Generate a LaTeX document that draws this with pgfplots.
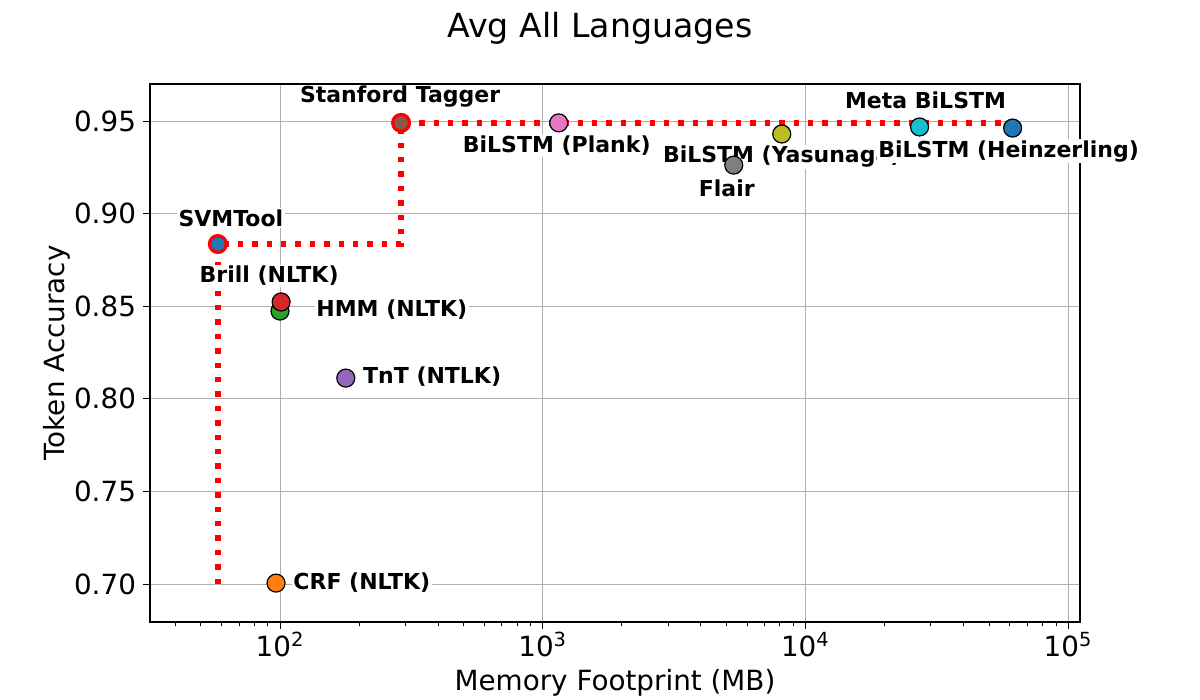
\documentclass[border=0pt]{standalone}
\usepackage{pgfplots}
\pgfplotsset{compat=1.18}
\usepackage{fontspec}
\setmainfont{DejaVu Sans}
\definecolor{tblue}{HTML}{1F77B4}
\definecolor{torange}{HTML}{FF7F0E}
\definecolor{tgreen}{HTML}{2CA02C}
\definecolor{tred}{HTML}{D62728}
\definecolor{tpurple}{HTML}{9467BD}
\definecolor{tbrown}{HTML}{8C564B}
\definecolor{tpink}{HTML}{E377C2}
\definecolor{tgray}{HTML}{7F7F7F}
\definecolor{tolive}{HTML}{BCBD22}
\definecolor{tcyan}{HTML}{17BECF}
\definecolor{gridgray}{HTML}{B0B0B0}
\newcommand\ticklabelfont{\fontsize{13.9}{16}\selectfont}
\newcommand\labfont{\fontsize{11}{13}\selectfont\bfseries}
% point: x, y, fill, edge colour, edge width, mark size
\newcommand\pnt[6]{\addplot[only marks, mark=*, mark size=#6, mark options={fill=#3, draw=#4, line width=#5}] coordinates {(#1,#2)};}
% label: x, y, text, anchor, xshift, yshift
\newcommand\lab[6]{\addplot[only marks, mark=*, mark size=0pt, mark options={draw=none, fill=none},
  nodes near coords={#3},
  every node near coord/.append style={anchor=#4, xshift=#5, yshift=#6, fill=white, text=black, inner sep=0.8pt, font=\labfont}]
  coordinates {(#1,#2)};}
\begin{document}
\begin{tikzpicture}
\useasboundingbox (-75pt,-39pt) rectangle (525pt,311pt);
\begin{axis}[
  at={(0,0)}, anchor=south west,
  scale only axis, width=465pt, height=269pt,
  xmode=log, xmin=32, xmax=111000,
  ymin=0.6795, ymax=0.970,
  xtick={100,1000,10000,100000},
  xticklabels={10\textsuperscript{2},10\textsuperscript{3},10\textsuperscript{4},10\textsuperscript{5}},
  minor xtick={40,50,60,70,80,90,200,300,400,500,600,700,800,900,2000,3000,4000,5000,6000,7000,8000,9000,20000,30000,40000,50000,60000,70000,80000,90000},
  ytick={0.70,0.75,0.80,0.85,0.90,0.95},
  yticklabel style={/pgf/number format/.cd, fixed, fixed zerofill, precision=2},
  xticklabel style={yshift=2pt},
  /pgf/number format/assume math mode=true,
  tick label style={font=\ticklabelfont, text=black},
  tick align=outside, tick pos=left,
  major tick length=3.5pt, minor tick length=2.2pt,
  every tick/.style={black, line width=0.5pt},
  grid=major,
  major grid style={gridgray, line width=0.5pt},
  axis line style={black, line width=0.6pt},
  clip=false,
]
% Pareto frontier
\addplot[red, line width=2.7pt, dash pattern=on 2.7pt off 4.5pt, line cap=butt] coordinates {
  (58,0.700) (58,0.8836) (289,0.8836) (289,0.949) (61500,0.949)
};
% labels
\lab{58}{0.8836}{SVMTool}{center}{6.5pt}{13pt}
\lab{101}{0.8523}{Brill (NLTK)}{center}{-6pt}{13pt}
\lab{100}{0.8474}{HMM (NLTK)}{west}{17.2pt}{0.5pt}
\lab{178}{0.8112}{TnT (NTLK)}{west}{7.7pt}{0.5pt}
\lab{96.6}{0.7005}{CRF (NLTK)}{west}{7.7pt}{0.5pt}
\lab{289}{0.949}{Stanford Tagger}{center}{-0.5pt}{13pt}
\lab{1151}{0.949}{BiLSTM (Plank)}{center}{-1pt}{-11.5pt}
\lab{8128}{0.943}{BiLSTM (Yasunaga)}{center}{0pt}{-11.5pt}
\lab{5336}{0.9262}{Flair}{center}{-3.5pt}{-11.5pt}
\lab{27200}{0.9468}{Meta BiLSTM}{center}{3pt}{13.5pt}
\lab{61500}{0.9462}{BiLSTM (Heinzerling)}{center}{-2pt}{-11.5pt}
% points
\pnt{96.6}{0.7005}{torange}{black}{0.6pt}{4.5pt}
\pnt{178}{0.8112}{tpurple}{black}{0.6pt}{4.5pt}
\pnt{100}{0.8474}{tgreen}{black}{0.6pt}{4.5pt}
\pnt{101}{0.8523}{tred}{black}{0.6pt}{4.5pt}
\pnt{58}{0.8836}{tblue}{red}{1.6pt}{4.2pt}
\pnt{289}{0.949}{tbrown}{red}{1.6pt}{4.2pt}
\pnt{1151}{0.949}{tpink}{black}{0.6pt}{4.5pt}
\pnt{5336}{0.9262}{tgray}{black}{0.6pt}{4.5pt}
\pnt{8128}{0.943}{tolive}{black}{0.6pt}{4.5pt}
\pnt{27200}{0.9468}{tcyan}{black}{0.6pt}{4.5pt}
\pnt{61500}{0.9462}{tblue}{black}{0.6pt}{4.5pt}
\end{axis}
\node[font=\fontsize{16.6}{19}\selectfont] at (225pt,297pt) {Avg All Languages};
\node[font=\ticklabelfont] at (232.5pt,-30.5pt) {Memory Footprint (MB)};
\node[font=\ticklabelfont, rotate=90] at (-46.5pt,134.5pt) {Token Accuracy};
\end{tikzpicture}
\end{document}
